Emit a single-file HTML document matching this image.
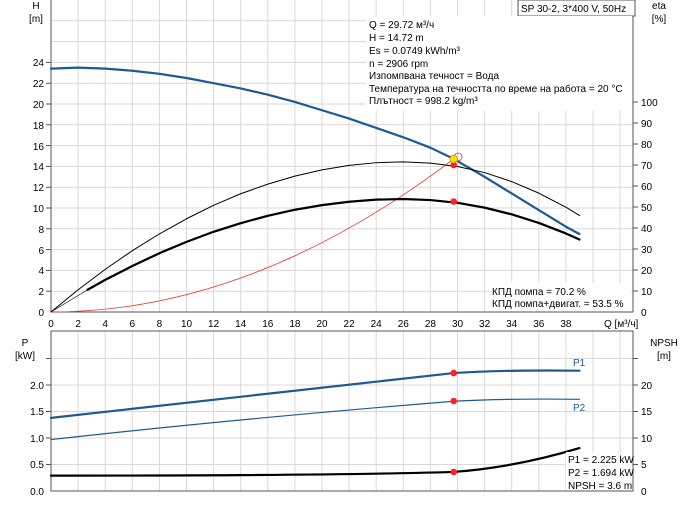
<!DOCTYPE html>
<html><head><meta charset="utf-8"><style>
body{margin:0;background:#fff;width:691px;height:500px;overflow:hidden;font-family:"Liberation Sans","DejaVu Sans",sans-serif}
svg text{font-family:"Liberation Sans","DejaVu Sans",sans-serif;font-size:10px;fill:#000}
.ns{vector-effect:non-scaling-stroke;fill:none;stroke-linejoin:round;stroke-linecap:round}
</style></head><body>
<svg width="691" height="500" xmlns="http://www.w3.org/2000/svg">
<rect width="691" height="500" fill="#fff"/>
<g stroke="#d8d8d8" stroke-width="1">
<path d="M78.1 0V312M105.2 0V312M132.3 0V312M159.4 0V312M186.5 0V312M213.6 0V312M240.7 0V312M267.8 0V312M294.9 0V312M322 0V312M349.1 0V312M376.2 0V312M403.3 0V312M430.4 0V312M457.5 0V312M484.6 0V312M511.7 0V312M538.8 0V312M565.9 0V312M593 0V312M620.1 0V312"/>
<path d="M51 291.2H633M51 270.4H633M51 249.6H633M51 228.8H633M51 208H633M51 187.2H633M51 166.4H633M51 145.6H633M51 124.8H633M51 104H633M51 83.2H633M51 62.4H633M51 41.6H633M51 20.8H633"/>
<path d="M78.1 331V491M105.2 331V491M132.3 331V491M159.4 331V491M186.5 331V491M213.6 331V491M240.7 331V491M267.8 331V491M294.9 331V491M322 331V491M349.1 331V491M376.2 331V491M403.3 331V491M430.4 331V491M457.5 331V491M484.6 331V491M511.7 331V491M538.8 331V491M565.9 331V491M593 331V491M620.1 331V491"/>
<path d="M51 464.5H633M51 438H633M51 411.5H633M51 385H633M51 358.5H633"/>
</g>
<g stroke="#555" stroke-width="1" fill="none">
<path d="M51 0V312H633V0"/>
<path d="M51 331V491H633V331H51"/>
<path d="M46 62.4H51M46 83.2H51M46 104H51M46 124.8H51M46 145.6H51M46 166.4H51M46 187.2H51M46 208H51M46 228.8H51M46 249.6H51M46 270.4H51M46 291.2H51"/>
<path d="M633 102H638M633 123H638M633 144H638M633 165H638M633 186H638M633 207H638M633 228H638M633 249H638M633 270H638M633 291H638"/>
<path d="M46 464.5H51M46 438H51M46 411.5H51M46 385H51M46 358.5H51M633 464.5H638M633 438H638M633 411.5H638M633 385H638M633 358.5H638"/>
</g>
<g text-anchor="end">
<text x="44" y="66">24</text><text x="44" y="87">22</text><text x="44" y="108">20</text><text x="44" y="129">18</text><text x="44" y="150">16</text><text x="44" y="170">14</text><text x="44" y="191">12</text><text x="44" y="212">10</text><text x="44" y="233">8</text><text x="44" y="254">6</text><text x="44" y="274">4</text><text x="44" y="295">2</text><text x="44" y="316">0</text>
<text x="44" y="495">0.0</text><text x="44" y="468">0.5</text><text x="44" y="442">1.0</text><text x="44" y="415">1.5</text><text x="44" y="389">2.0</text>
</g>
<g text-anchor="start">
<text x="641" y="106">100</text><text x="641" y="127">90</text><text x="641" y="148">80</text><text x="641" y="169">70</text><text x="641" y="190">60</text><text x="641" y="211">50</text><text x="641" y="232">40</text><text x="641" y="253">30</text><text x="641" y="274">20</text><text x="641" y="295">10</text><text x="641" y="316">0</text>
<text x="641" y="495">0</text><text x="641" y="468">5</text><text x="641" y="442">10</text><text x="641" y="415">15</text><text x="641" y="389">20</text>
</g>
<g text-anchor="middle">
<text x="51" y="327">0</text><text x="78.1" y="327">2</text><text x="105.2" y="327">4</text><text x="132.3" y="327">6</text><text x="159.4" y="327">8</text><text x="186.5" y="327">10</text><text x="213.6" y="327">12</text><text x="240.7" y="327">14</text><text x="267.8" y="327">16</text><text x="294.9" y="327">18</text><text x="322" y="327">20</text><text x="349.1" y="327">22</text><text x="376.2" y="327">24</text><text x="403.3" y="327">26</text><text x="430.4" y="327">28</text><text x="457.5" y="327">30</text><text x="484.6" y="327">32</text><text x="511.7" y="327">34</text><text x="538.8" y="327">36</text><text x="565.9" y="327">38</text>
<text x="36" y="9">H</text><text x="36" y="22">[m]</text>
<text x="659" y="9">eta</text><text x="659" y="22">[%]</text>
<text x="25" y="346">P</text><text x="25" y="359">[kW]</text>
<text x="664" y="346">NPSH</text><text x="664" y="359">[m]</text>
</g>
<text x="604" y="327">Q [м³/ч]</text>
<rect x="518" y="0" width="117" height="16" fill="#fff" stroke="#555"/>
<text x="521" y="12">SP 30-2, 3*400 V, 50Hz</text>
<rect x="366" y="16" width="266" height="95" fill="#fff"/>
<g><text x="369" y="28">Q = 29.72 м³/ч</text><text x="369" y="41">H = 14.72 m</text><text x="369" y="54">Es = 0.0749 kWh/m³</text><text x="369" y="67">n = 2906 rpm</text><text x="369" y="79">Изпомпвана течност = Вода</text><text x="369" y="92">Температура на течността по време на работа = 20 °C</text><text x="369" y="104">Плътност = 998.2 kg/m³</text></g>
<rect x="489" y="283" width="142" height="28" fill="#fff"/>
<text x="492" y="295">КПД помпа = 70.2 %</text><text x="492" y="307">КПД помпа+двигат. = 53.5 %</text>
<g transform="translate(51,312) scale(13.55,-10.4)">
<path class="ns" stroke="#e33" stroke-width="0.8" d="M0 0 Q14.86 0 29.72 14.72"/>
<polyline class="ns" stroke="#1b5a92" stroke-width="2.2" points="0,23.4 2,23.5 4,23.4 6,23.2 8,22.9 10,22.5 12,22.0 14,21.5 16,20.9 18,20.2 20,19.4 22,18.6 24,17.7 26,16.8 28,15.8 29.72,14.72 32,13.0 34,11.4 36,9.8 38,8.2 39,7.5"/>
</g>
<g transform="translate(51,312) scale(13.55,-2.1)">
<polyline class="ns" stroke="#000" stroke-width="1" points="0,0 2,10.6 4,20.3 6,29.2 8,37.2 10,44.4 12,50.8 14,56.3 16,60.9 18,64.7 20,67.7 22,69.8 24,71.1 26,71.5 28,70.9 30,69.3 32,66.4 34,62.1 36,56.6 38,49.9 39,46"/>
<path class="ns" stroke="#000" stroke-width="0.6" d="M0 0 L2.7 10.6"/>
<polyline class="ns" stroke="#000" stroke-width="2.2" points="2.7,10.6 4,15.3 6,21.9 8,28.0 10,33.4 12,38.2 14,42.3 16,45.8 18,48.7 20,50.9 22,52.5 24,53.5 26,53.8 28,53.3 30,52.0 32,49.7 34,46.5 36,42.4 38,37.4 39,34.5"/>
</g>
<circle cx="453.7" cy="165" r="3.3" fill="#f22"/>
<circle cx="453.7" cy="201.6" r="3.3" fill="#f22"/>
<circle cx="458" cy="157" r="4" fill="none" stroke="#e33" stroke-width="0.8"/>
<circle cx="453.7" cy="159" r="3.8" fill="#fd0" stroke="#c90" stroke-width="0.8"/>
<g transform="translate(51,491) scale(13.55,-53)">
<path class="ns" stroke="#1b5a92" stroke-width="2.2" d="M0 1.38 C8 1.6 18 1.9 29.72 2.225 C33 2.28 36 2.28 39 2.27"/>
<path class="ns" stroke="#1b5a92" stroke-width="1.2" d="M0 0.97 C8 1.2 18 1.45 29.72 1.694 C33 1.74 36 1.74 39 1.73"/>
</g>
<g transform="translate(51,491) scale(13.55,-5.3)">
<path class="ns" stroke="#000" stroke-width="2.2" d="M0 2.9 C10 2.9 22 3 29.72 3.6 C33 4.2 36 5.8 39 8.1"/>
</g>
<circle cx="453.7" cy="373" r="3.3" fill="#f22"/>
<circle cx="453.7" cy="401" r="3.3" fill="#f22"/>
<circle cx="453.7" cy="472" r="3.3" fill="#f22"/>
<text x="573" y="366" style="fill:#1b5a92">P1</text>
<text x="573" y="411" style="fill:#1b5a92">P2</text>
<rect x="566" y="452" width="66" height="38" fill="#fff" opacity="0.9"/>
<text x="568" y="463">P1 = 2.225 kW</text><text x="568" y="476">P2 = 1.694 kW</text><text x="568" y="489">NPSH = 3.6 m</text>
</svg>
</body></html>
